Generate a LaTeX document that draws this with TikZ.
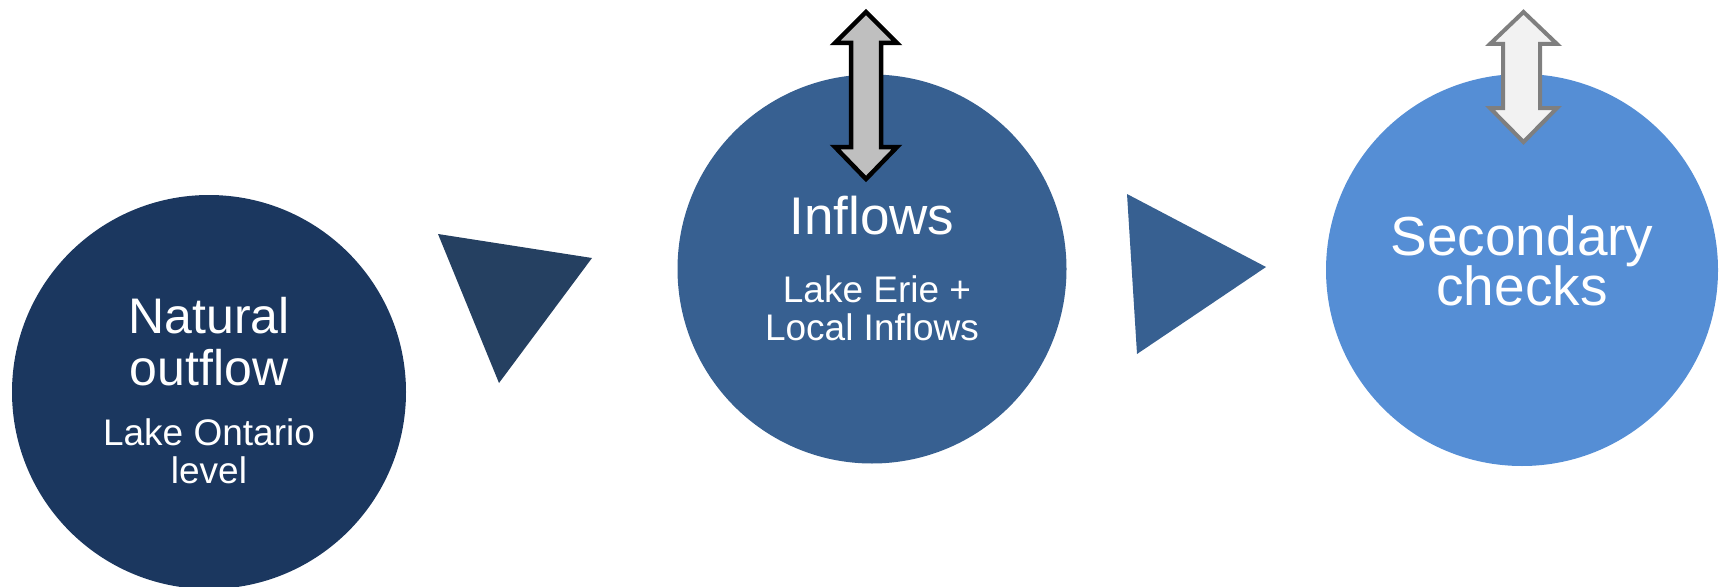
\documentclass[tikz,border=0pt]{standalone}
\usepackage{fontspec}
\setmainfont{Liberation Sans}
\definecolor{cA}{HTML}{1B375F}
\definecolor{cB}{HTML}{376091}
\definecolor{cC}{HTML}{558ED5}
\definecolor{tA}{HTML}{254061}
\definecolor{tB}{HTML}{376091}
\definecolor{gFill}{HTML}{BFBFBF}
\definecolor{lFill}{HTML}{F2F2F2}
\definecolor{lEdge}{HTML}{7F7F7F}
\tikzset{
  blob/.style={circle, inner sep=0pt, draw=none},
  big/.style={text=white, anchor=base, inner sep=0pt, font=\fontsize{50}{52}\selectfont},
  small/.style={text=white, anchor=base, inner sep=0pt, font=\fontsize{37}{40}\selectfont},
  dbl/.style={line join=miter, miter limit=10}
}
\begin{document}
\begin{tikzpicture}[x=1pt,y=-1pt]
\useasboundingbox (0,0) rectangle (1723,586);
% circles
\node[blob, fill=cA, minimum size=394pt] (c1) at (209,392) {};
\node[blob, fill=cB, minimum size=389pt] (c2) at (872,269) {};
\node[blob, fill=cC, minimum size=392pt] (c3) at (1522,270) {};
% triangles
\fill[tA] (438,234) -- (592,258) -- (499,383) -- cycle;
\fill[tB] (1127,194) -- (1266,267) -- (1137,354) -- cycle;
% texts circle 1
\node[big] (t1a) at (209,333) {Natural};
\node[big] (t1b) at (209,385) {outflow};
\node[small] (t1c) at (209,445) {Lake Ontario};
\node[small] (t1d) at (209,483) {level};
% texts circle 2
\node[big, font=\fontsize{53}{55}\selectfont] (t2a) at (872,234) {Inflows};
\node[small] (t2b) at (877,302) {Lake Erie +};
\node[small] (t2c) at (872,340) {Local Inflows};
% texts circle 3
\node[big, font=\fontsize{55}{57}\selectfont] (t3a) at (1522,255) {Secondary};
\node[big, font=\fontsize{55}{57}\selectfont] (t3b) at (1522,305) {checks};
% double arrows
\draw[dbl, fill=gFill, draw=black, line width=4.5pt]
  (866,12) -- (897,43) -- (881,43) -- (881,147) -- (897,147) -- (866,179)
  -- (835,147) -- (851,147) -- (851,43) -- (835,43) -- cycle;
\draw[dbl, fill=lFill, draw=lEdge, line width=4pt]
  (1523.5,12) -- (1557,44) -- (1540,44) -- (1540,108) -- (1557,108) -- (1523.5,142)
  -- (1490,108) -- (1503,108) -- (1503,44) -- (1490,44) -- cycle;
\end{tikzpicture}
\end{document}
